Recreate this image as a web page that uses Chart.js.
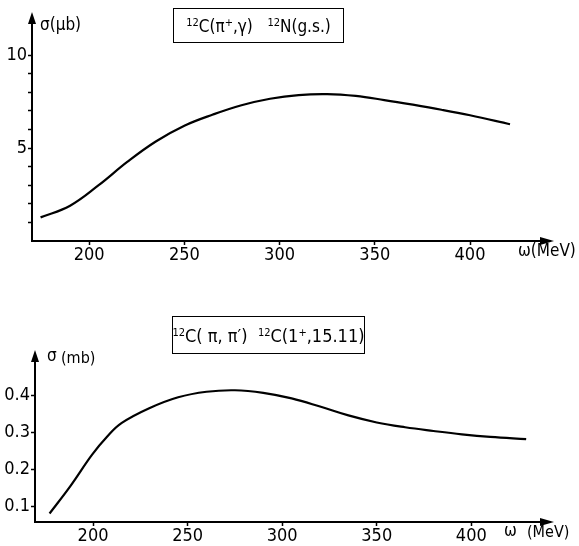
<!DOCTYPE html>
<html>
<head>
<meta charset="utf-8">
<script src="https://cdn.jsdelivr.net/npm/chart.js@4/dist/chart.umd.min.js"></script>
<style>
  html, body { margin:0; padding:0; background:#fff; }
  body { width:579px; height:546px; position:relative; overflow:hidden;
         font-family:'DejaVu Sans Condensed','Liberation Sans',sans-serif; color:#000; }
  canvas { position:absolute; left:0; }
  .lbl { position:absolute; font-size:17px; line-height:17px; white-space:nowrap; }
  .box { position:absolute; border:1.6px solid #000; box-sizing:border-box; font-size:17px;
         display:flex; align-items:center; justify-content:center; white-space:nowrap; }
  sup { font-size:11px; vertical-align:6px; line-height:0; }
</style>
</head>
<body>
<canvas id="c1" width="579" height="273" style="top:0"></canvas>
<canvas id="c2" width="579" height="273" style="top:273px"></canvas>

<div class="box" style="left:173px;top:8px;width:171px;height:35px;"><span><sup>12</sup>C(π<sup>+</sup>,γ)&nbsp;&nbsp; <sup>12</sup>N(g.s.)</span></div>
<div class="lbl" style="left:40px;top:16px;">σ(μb)</div>
<div class="lbl" style="left:518px;top:242px;">ω(MeV)</div>

<div class="box" style="left:172px;top:316px;width:193px;height:38px;font-size:18px;"><span><sup>12</sup>C( π, π′)&nbsp; <sup>12</sup>C(1<sup>+</sup>,15.11)</span></div>
<div class="lbl" style="left:47px;top:347px;">σ</div>
<div class="lbl" style="left:61px;top:349px;font-size:16px;">(mb)</div>
<div class="lbl" style="left:504px;top:522px;">ω</div>
<div class="lbl" style="left:527px;top:523px;font-size:16px;">(MeV)</div>

<script>
// ---- data ----
const topOmega    = [174.5, 190, 205, 220, 235, 250, 265, 280, 295, 310, 325, 340, 355, 370, 385, 400, 421];
const topSigma    = [1.27, 1.9, 3.0, 4.25, 5.35, 6.2, 6.8, 7.3, 7.65, 7.85, 7.9, 7.8, 7.58, 7.33, 7.06, 6.76, 6.28];
const topYTicks   = [1, 2, 3, 4, 5, 6, 7, 8, 9, 10];
const topYLabels  = [5, 10];

const botOmega    = [177, 188, 199.5, 207.5, 215, 230, 245, 260, 275, 290, 305, 320, 335, 350, 365, 380, 395, 410, 429];
const botSigma    = [0.081, 0.155, 0.24, 0.289, 0.325, 0.366, 0.395, 0.41, 0.414, 0.407, 0.392, 0.37, 0.346, 0.327, 0.314, 0.304, 0.295, 0.288, 0.282];
const botYTicks   = [0.1, 0.2, 0.3, 0.4];

const xTicks      = [200, 250, 300, 350, 400];

const FONT = "'DejaVu Sans Condensed','Liberation Sans',sans-serif";

const arrowPlugin = {
  id: 'arrows',
  afterDraw(chart) {
    const {ctx, chartArea: a} = chart;
    ctx.save();
    ctx.fillStyle = '#000';
    ctx.beginPath();
    ctx.moveTo(a.left, a.top - 4);
    ctx.lineTo(a.left - 4, a.top + 8);
    ctx.lineTo(a.left + 4, a.top + 8);
    ctx.closePath(); ctx.fill();
    ctx.beginPath();
    ctx.moveTo(a.right + 4, a.bottom);
    ctx.lineTo(a.right - 10, a.bottom - 4);
    ctx.lineTo(a.right - 10, a.bottom + 4);
    ctx.closePath(); ctx.fill();
    ctx.restore();
  }
};

function makeChart(id, omega, sigma, cfg) {
  const pts = omega.map((w, i) => ({x: w, y: sigma[i]}));
  return new Chart(document.getElementById(id), {
    type: 'line',
    data: { datasets: [{ data: pts, borderColor: '#000', borderWidth: 2.2, pointRadius: 0,
                         tension: 0.4, fill: false }] },
    options: {
      responsive: false, animation: false, devicePixelRatio: 1,
      layout: { padding: { left: 0, top: cfg.padTop, right: 29, bottom: 0 } },
      plugins: { legend: { display: false }, tooltip: { enabled: false } },
      scales: {
        x: {
          type: 'linear', min: cfg.xMin, max: cfg.xMax,
          afterBuildTicks: s => { s.ticks = xTicks.map(v => ({value: v})); },
          afterFit: s => { s.height = cfg.xHeight; },
          border: { display: true, color: '#000', width: 2 },
          grid: { display: true, drawOnChartArea: false, drawTicks: true, tickLength: 4, tickColor: '#000', tickWidth: 1.5 },
          ticks: { color: '#000', font: { family: FONT, size: 18 }, padding: 0, maxRotation: 0 }
        },
        y: {
          type: 'linear', min: cfg.yMin, max: cfg.yMax,
          afterBuildTicks: s => { s.ticks = cfg.yTicks.map(v => ({value: v})); },
          afterFit: s => { s.width = cfg.yWidth; },
          border: { display: true, color: '#000', width: 2 },
          grid: { display: true, drawOnChartArea: false, drawTicks: true, tickLength: 4, tickColor: '#000', tickWidth: 1.5 },
          ticks: { color: '#000', font: { family: FONT, size: 18 }, padding: 1,
                   callback: cfg.yLabel }
        }
      }
    },
    plugins: [arrowPlugin]
  });
}

makeChart('c1', topOmega, topSigma, {
  padTop: 16, xMin: 170, xMax: 442, yMin: 0, yMax: 12.1, xHeight: 32, yWidth: 32,
  yTicks: topYTicks, yLabel: v => topYLabels.includes(v) ? String(v) : ''
});
makeChart('c2', botOmega, botSigma, {
  padTop: 81, xMin: 169.3, xMax: 441.6, yMin: 0.058, yMax: 0.512, xHeight: 24, yWidth: 35,
  yTicks: botYTicks, yLabel: v => String(v)
});
</script>
</body>
</html>
